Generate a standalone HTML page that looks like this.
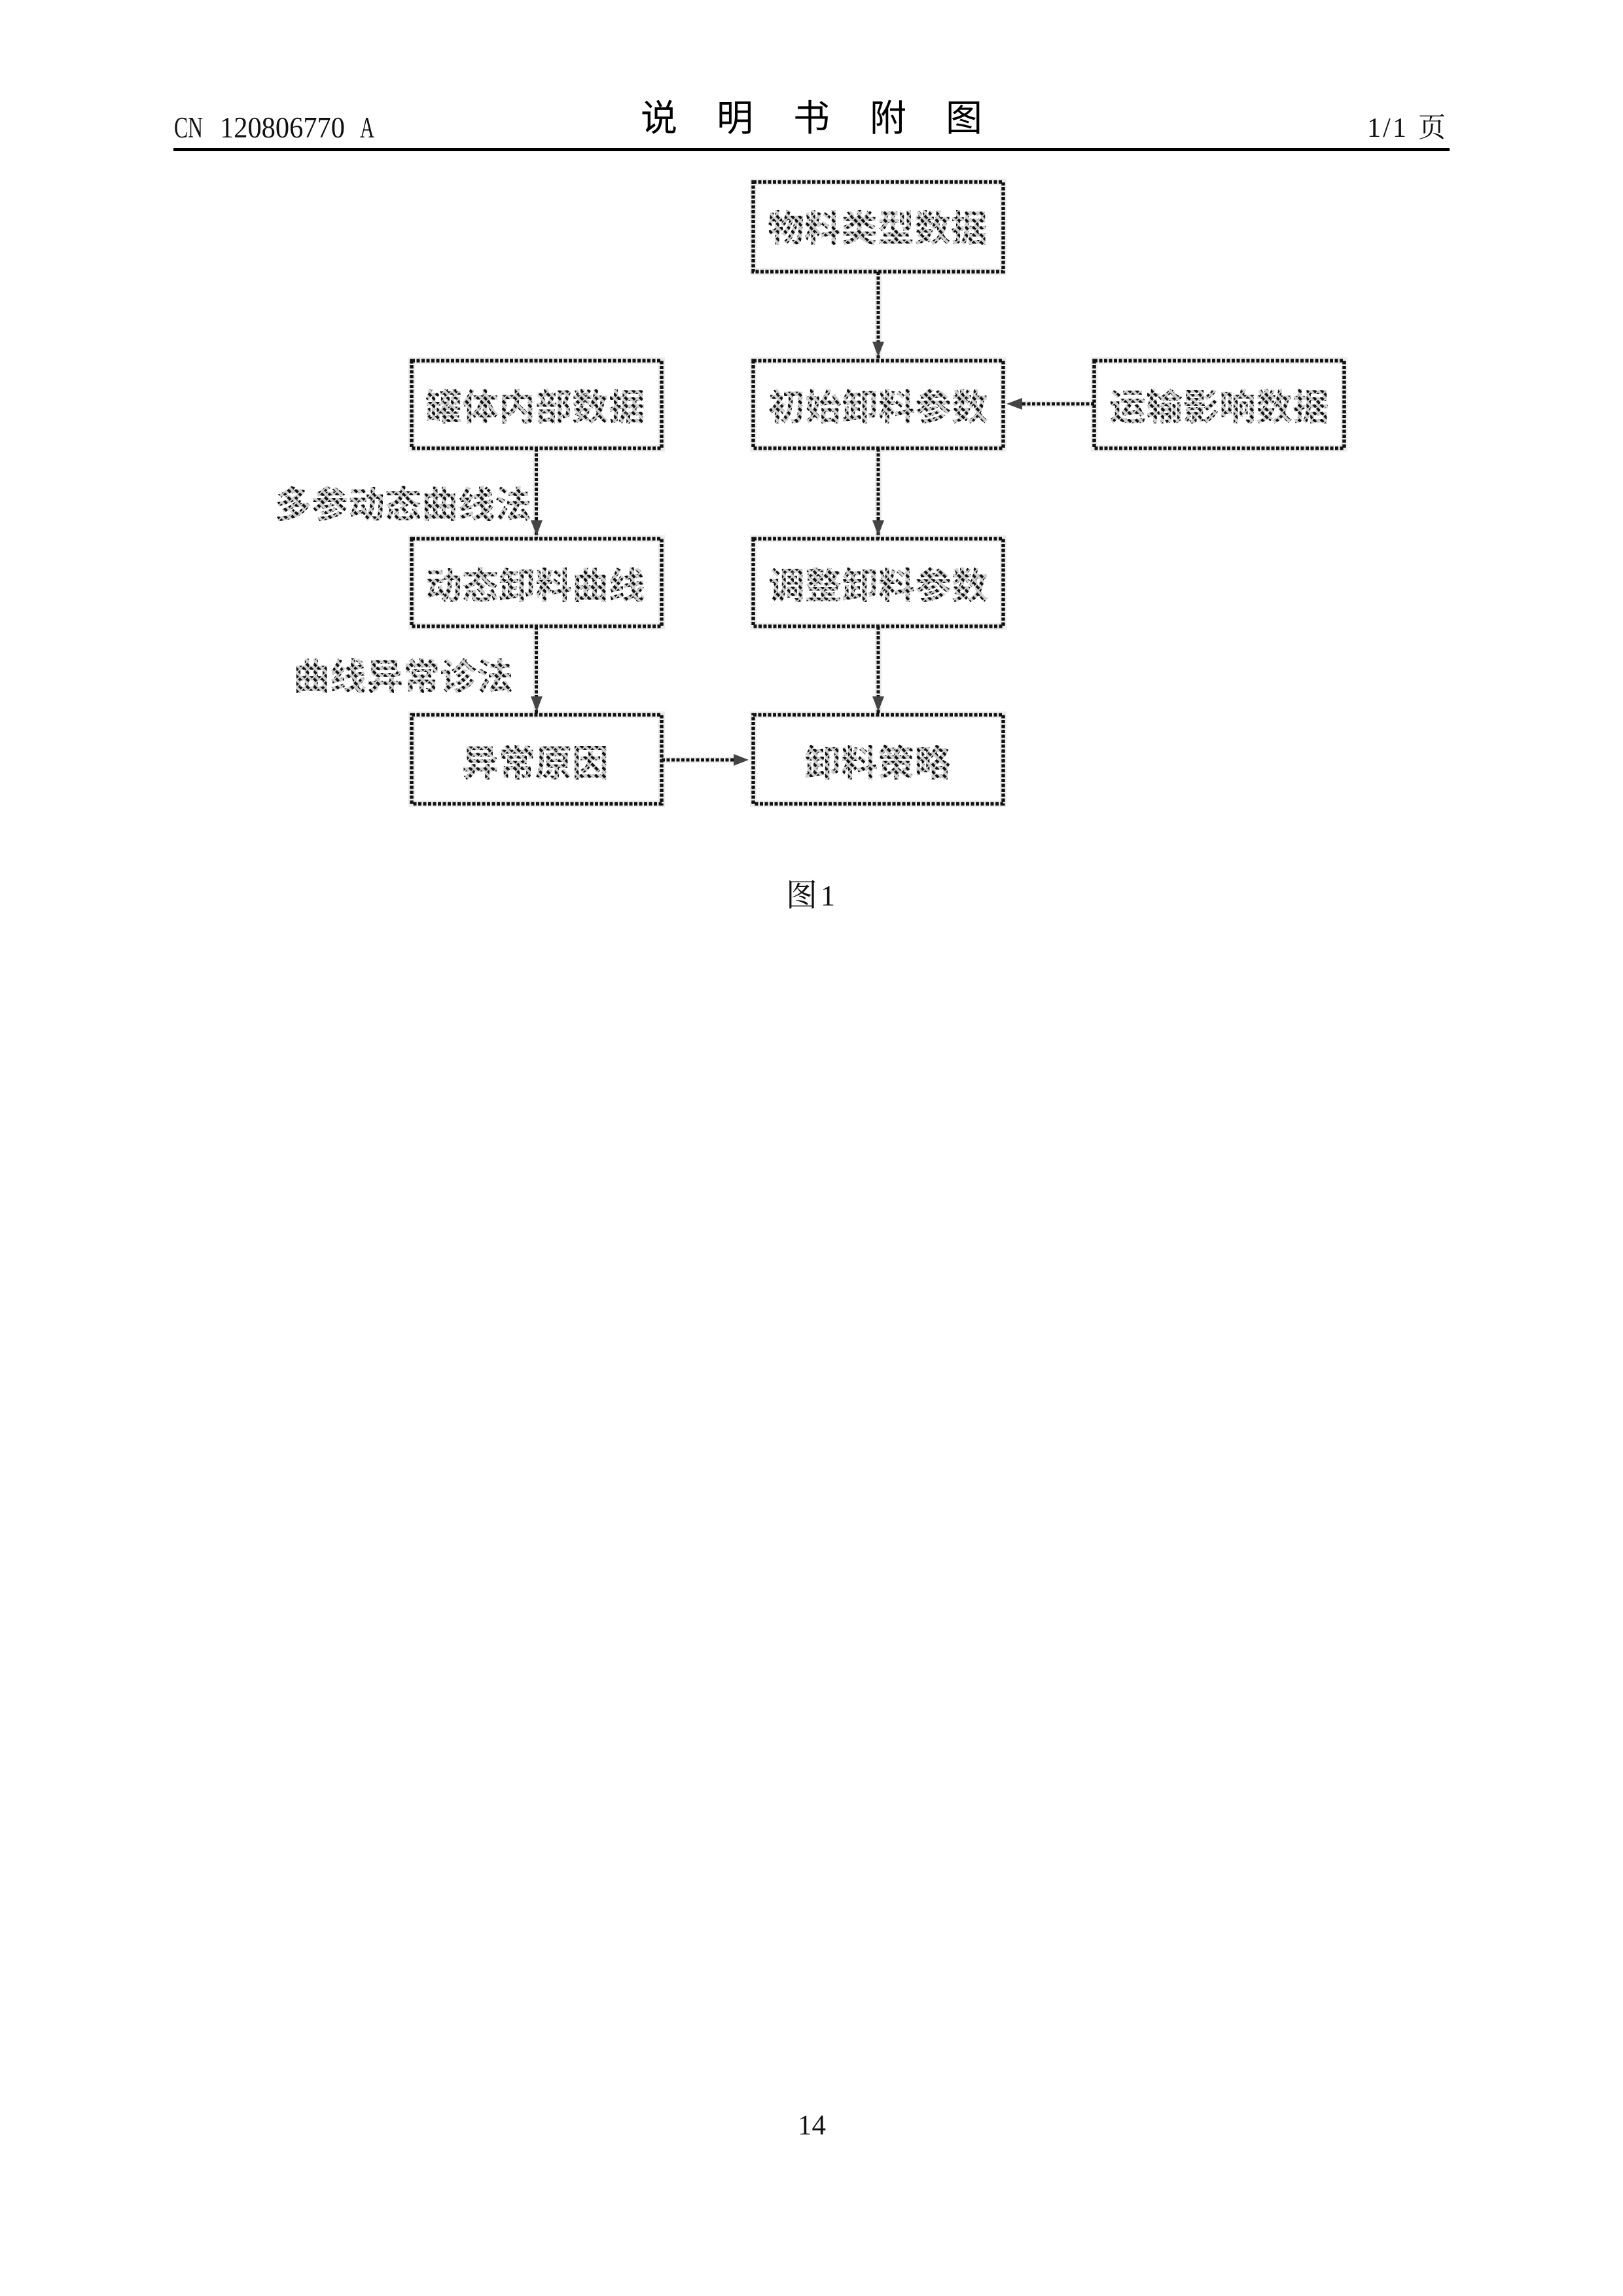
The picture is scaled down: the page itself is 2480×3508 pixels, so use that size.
<!DOCTYPE html>
<html><head><meta charset="utf-8"><style>
html,body{margin:0;padding:0;background:#fff}
svg{display:block}
.d{font-family:"Liberation Sans","Noto Sans CJK SC",sans-serif;font-size:56px;font-weight:700;fill:url(#h)}
.s{font-family:"Liberation Serif","Noto Serif CJK SC",serif;fill:#111}
</style></head><body>
<svg width="2480" height="3508" viewBox="0 0 2480 3508" xmlns="http://www.w3.org/2000/svg">
<defs>
<pattern id="h" width="8" height="8" patternUnits="userSpaceOnUse" patternTransform="rotate(45)">
<rect width="8" height="8" fill="#d0d0d0"/>
<rect x="0" y="0" width="8" height="4" fill="#111"/>
<rect x="6" y="0" width="2" height="8" fill="#d0d0d0"/>
</pattern>
</defs>
<rect width="2480" height="3508" fill="#fff"/>

<!-- header -->
<text class="s" font-size="45" y="210" x="266" textLength="44" lengthAdjust="spacingAndGlyphs">CN</text>
<text class="s" font-size="45" y="210" x="336" textLength="191" lengthAdjust="spacingAndGlyphs">120806770</text>
<text class="s" font-size="45" y="210" x="550" textLength="22" lengthAdjust="spacingAndGlyphs">A</text>
<g font-family="'Liberation Sans','Noto Sans CJK SC',sans-serif" font-size="56" fill="#000" text-anchor="middle">
<text x="1007" y="200">说</text><text x="1123" y="200">明</text><text x="1240" y="200">书</text><text x="1357" y="200">附</text><text x="1473" y="200">图</text>
</g>
<text class="s" font-size="42" y="209" x="2089" textLength="60" lengthAdjust="spacing">1/1</text>
<text class="s" font-size="42" y="209" x="2167">页</text>
<rect x="265" y="226" width="1950" height="5" fill="#000"/>

<!-- connector and box halos -->
<g stroke="#ececec" stroke-width="10" fill="none">
<path d="M1342 415V550M1342 685V823M1342 957V1092M1672 617H1556M819.5 685V823M819.5 957V1092M1011 1161H1125"/>
<rect x="1151" y="278" width="382" height="137"/>
<rect x="629" y="551" width="382" height="134"/>
<rect x="1151" y="551" width="382" height="134"/>
<rect x="1672" y="551" width="382" height="134"/>
<rect x="629" y="823" width="382" height="134"/>
<rect x="1151" y="823" width="382" height="134"/>
<rect x="629" y="1092" width="382" height="136"/>
<rect x="1151" y="1092" width="382" height="136"/>
</g>

<!-- connectors -->
<g stroke="#111" stroke-width="5" stroke-dasharray="5 2.5" fill="none">
<path d="M1342 415V550"/>
<path d="M1342 685V823"/>
<path d="M1342 957V1092"/>
<path d="M1672 617H1556"/>
<path d="M819.5 685V823"/>
<path d="M819.5 957V1092"/>
<path d="M1011 1161H1125"/>
</g>
<g fill="#444">
<path d="M1333 522L1351 522L1342 545Z"/>
<path d="M1333 795L1351 795L1342 818Z"/>
<path d="M1333 1064L1351 1064L1342 1087Z"/>
<path d="M811 795L829 795L820 818Z"/>
<path d="M811 1064L829 1064L820 1087Z"/>
<path d="M1121 1152L1121 1170L1144 1161Z"/>
<path d="M1562 608L1562 626L1538 617Z"/>
</g>

<!-- boxes -->
<g stroke="#111" stroke-width="5.5" stroke-dasharray="5 2.5" fill="none">
<rect x="1151" y="278" width="382" height="137"/>
<rect x="629" y="551" width="382" height="134"/>
<rect x="1151" y="551" width="382" height="134"/>
<rect x="1672" y="551" width="382" height="134"/>
<rect x="629" y="823" width="382" height="134"/>
<rect x="1151" y="823" width="382" height="134"/>
<rect x="629" y="1092" width="382" height="136"/>
<rect x="1151" y="1092" width="382" height="136"/>
</g>

<!-- labels -->
<text class="d" x="1173" y="369">物料类型数据</text>
<text class="d" x="650" y="642">罐体内部数据</text>
<text class="d" x="1174" y="642">初始卸料参数</text>
<text class="d" x="1695" y="642">运输影响数据</text>
<text class="d" x="420" y="791">多参动态曲线法</text>
<text class="d" x="650" y="915">动态卸料曲线</text>
<text class="d" x="1174" y="915">调整卸料参数</text>
<text class="d" x="448" y="1054">曲线异常诊法</text>
<text class="d" x="706" y="1186">异常原因</text>
<text class="d" x="1229" y="1186">卸料策略</text>

<!-- caption -->
<text class="s" font-size="48" x="1201" y="1384">图</text>
<text class="s" font-size="44" x="1254" y="1383">1</text>
<text class="s" font-size="43" x="1219" y="3261">14</text>
</svg>
</body></html>
